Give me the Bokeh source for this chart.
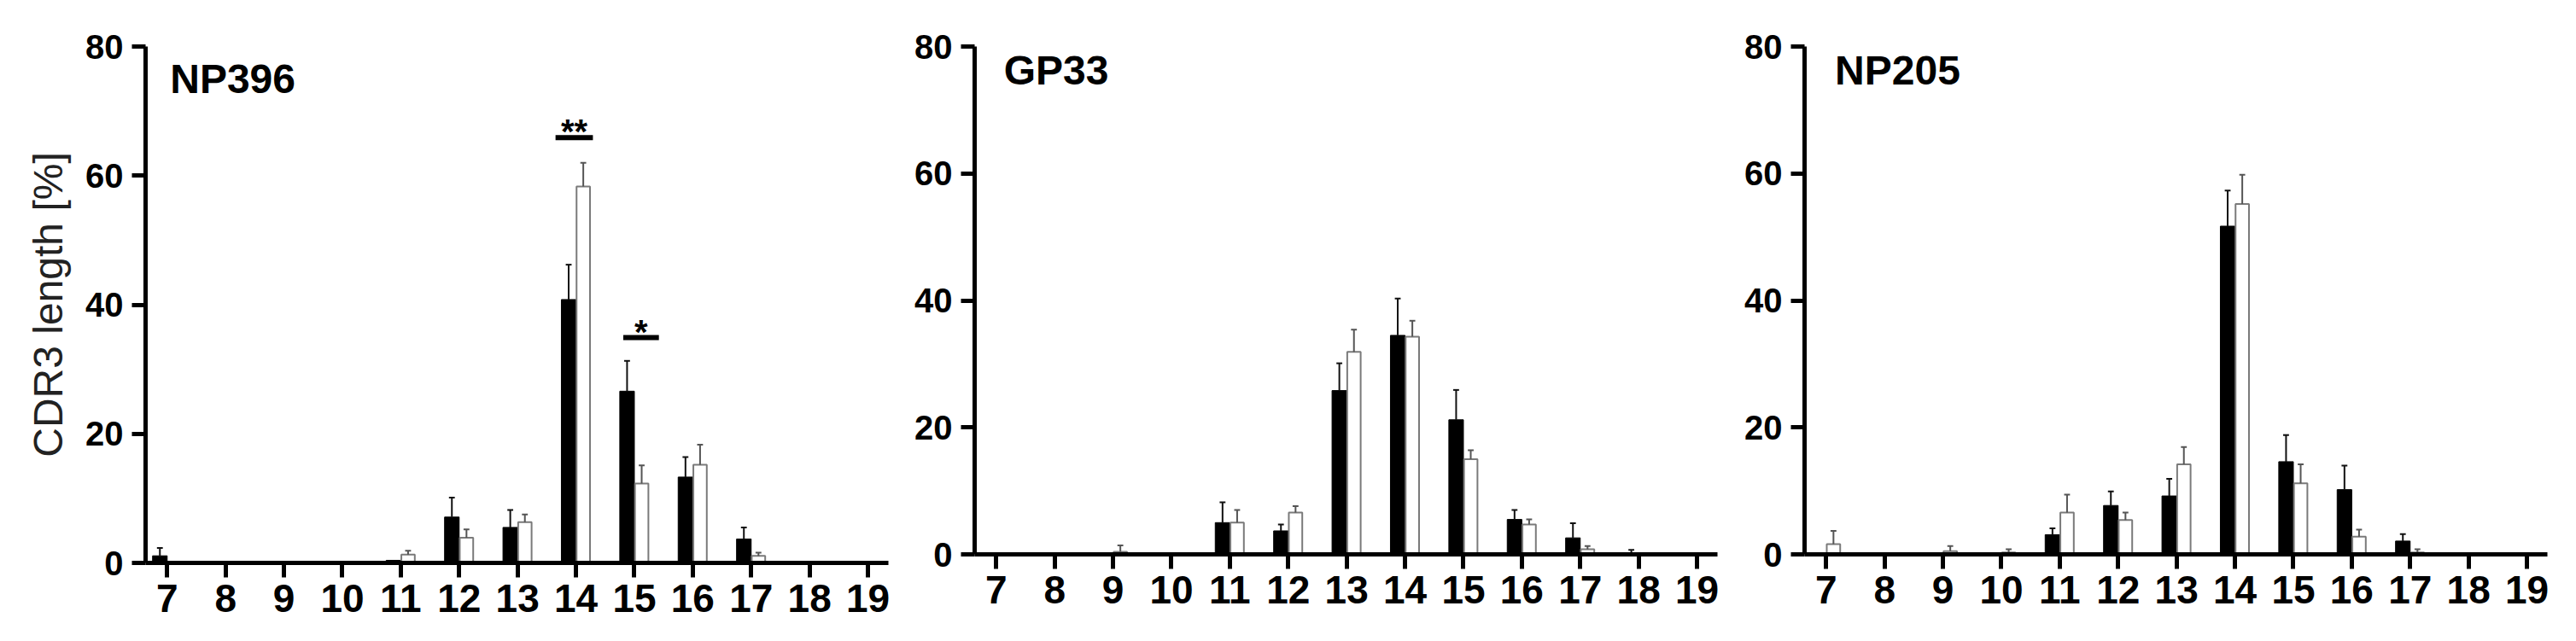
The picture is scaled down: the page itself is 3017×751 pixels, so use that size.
from bokeh.plotting import figure
from bokeh.layouts import row
from bokeh.models import Range1d, FixedTicker, Label, ColumnDataSource
from bokeh.core.properties import value
from bokeh.embed import file_html
from bokeh.resources import INLINE

# ---------------- data ----------------
lengths = [7, 8, 9, 10, 11, 12, 13, 14, 15, 16, 17, 18, 19]
y_ticks = [0, 20, 40, 60, 80]
panel_titles = ["NP396", "GP33", "NP205"]
y_label = "CDR3 length [%]"

np396_black = [1.1, 0, 0, 0, 0.4, 7.1, 5.5, 40.8, 26.6, 13.3, 3.7, 0.1, 0]
np396_black_err = [1.2, 0, 0, 0, 0, 3.0, 2.7, 5.4, 4.7, 3.1, 1.8, 0, 0]
np396_white = [0.2, 0, 0, 0, 1.3, 3.9, 6.3, 58.3, 12.3, 15.2, 1.1, 0, 0]
np396_white_err = [0, 0, 0, 0, 0.6, 1.3, 1.2, 3.7, 2.8, 3.1, 0.5, 0, 0]

gp33_black = [0, 0, 0, 0, 5.0, 3.7, 25.8, 34.5, 21.2, 5.5, 2.6, 0.1, 0]
gp33_black_err = [0, 0, 0, 0, 3.2, 1.0, 4.3, 5.8, 4.7, 1.5, 2.3, 0.6, 0]
gp33_white = [0, 0, 0.4, 0, 5.0, 6.6, 31.9, 34.3, 15.0, 4.7, 0.8, 0, 0]
gp33_white_err = [0, 0, 1.0, 0, 2.0, 1.0, 3.5, 2.5, 1.4, 0.8, 0.5, 0, 0]

np205_black = [0, 0, 0, 0, 3.1, 7.7, 9.2, 51.7, 14.6, 10.2, 2.1, 0.1, 0]
np205_black_err = [0, 0, 0, 0, 1.0, 2.2, 2.7, 5.6, 4.2, 3.8, 1.1, 0, 0]
np205_white = [1.6, 0, 0.5, 0.3, 6.6, 5.4, 14.2, 55.2, 11.2, 2.8, 0.3, 0, 0]
np205_white_err = [2.1, 0, 0.8, 0.5, 2.8, 1.2, 2.7, 4.6, 3.0, 1.1, 0.5, 0, 0]

# significance marks (NP396 only)
sig_x0 = [13.65, 14.81]
sig_x1 = [14.29, 15.42]
sig_y = [65.9, 34.9]
sig_text = ["**", "*"]

panels = [
    (np396_black, np396_black_err, np396_white, np396_white_err),
    (gp33_black, gp33_black_err, gp33_white, gp33_white_err),
    (np205_black, np205_black_err, np205_white, np205_white_err),
]

# ---------------- styling / layout ----------------
BAR_W = 0.25
CAP = 0.05
STAR_OFFSET = 0.9
FONT = "Liberation Sans"
NARROW = "Liberation Sans Narrow, Arial Narrow, Liberation Sans"
frame_tops = [44, 54, 54]
frame_heights = [605, 595, 595]
left_borders = [170, 85, 86]
title_x = [7.05, 7.13, 7.15]


def make_panel(i):
    black, black_err, white, white_err = panels[i]
    p = figure(
        frame_width=870,
        frame_height=frame_heights[i],
        min_border_left=left_borders[i],
        min_border_right=16,
        min_border_top=frame_tops[i],
        min_border_bottom=86,
        x_range=Range1d(6.63, 19.35),
        y_range=Range1d(0, 80),
        output_backend="svg",
        toolbar_location=None,
        background_fill_color="white",
        border_fill_color="white",
    )
    p.outline_line_color = None
    p.xgrid.visible = False
    p.ygrid.visible = False

    xb = [x - BAR_W / 2 for x in lengths]
    xw = [x + BAR_W / 2 for x in lengths]

    # bars
    p.vbar(x=xb, top=black, width=BAR_W, bottom=0,
           fill_color="black", line_color="black", line_width=1)
    p.vbar(x=xw, top=white, width=BAR_W - 0.02, bottom=0,
           fill_color="white", line_color="#7a7a7a", line_width=2)

    # error bars (upper only)
    for xs, vals, errs, col in ((xb, black, black_err, "#111111"),
                                (xw, white, white_err, "#555555")):
        sx, s0, s1 = [], [], []
        for x, v, e in zip(xs, vals, errs):
            if e > 0:
                sx.append(x)
                s0.append(v)
                s1.append(v + e)
        src = ColumnDataSource(dict(x=sx, y0=s0, y1=s1,
                                    cx0=[x - CAP for x in sx],
                                    cx1=[x + CAP for x in sx]))
        p.segment(x0="x", y0="y0", x1="x", y1="y1", source=src,
                  line_color=col, line_width=2)
        p.segment(x0="cx0", y0="y1", x1="cx1", y1="y1", source=src,
                  line_color=col, line_width=2)

    # axes
    for ax in (p.xaxis[0], p.yaxis[0]):
        ax.axis_line_width = 5
        ax.axis_line_color = "black"
        ax.major_tick_line_width = 5
        ax.major_tick_line_color = "black"
        ax.major_tick_in = 0
        ax.minor_tick_line_color = None
        ax.major_label_text_color = "black"
        ax.major_label_text_font_style = "bold"

    p.xaxis.ticker = FixedTicker(ticks=lengths)
    p.xaxis.major_tick_out = 17
    p.xaxis.major_label_text_font = NARROW
    p.xaxis.major_label_text_font_size = "46px"
    p.xaxis.major_label_standoff = 8

    p.yaxis.ticker = FixedTicker(ticks=y_ticks)
    p.yaxis.major_tick_out = 16
    p.yaxis.major_label_text_font = FONT
    p.yaxis.major_label_text_font_size = "40px"
    p.yaxis.major_label_standoff = 10

    if i == 0:
        p.yaxis.axis_label = y_label
        p.yaxis.axis_label_text_font = FONT
        p.yaxis.axis_label_text_font_style = "normal"
        p.yaxis.axis_label_text_font_size = "48px"
        p.yaxis.axis_label_text_color = "#222222"
        p.yaxis.axis_label_standoff = 14

        p.segment(x0=sig_x0, y0=sig_y, x1=sig_x1, y1=sig_y,
                  line_color="black", line_width=6)
        p.text(x=[(a + b) / 2 for a, b in zip(sig_x0, sig_x1)],
               y=[s + STAR_OFFSET for s in sig_y], text=sig_text,
               text_align="center", text_baseline="alphabetic",
               text_font=value(FONT), text_font_style="bold",
               text_font_size="40px", text_color="black")

    base_y = 75.0 if i == 0 else 76.2
    p.add_layout(Label(x=title_x[i], y=base_y, text=panel_titles[i],
                       text_font=FONT, text_font_style="bold",
                       text_font_size="48px", text_color="black",
                       text_baseline="alphabetic", text_align="left"))
    return p


layout = row(*[make_panel(i) for i in range(3)])
open("out.html", "w").write(file_html(layout, INLINE))
